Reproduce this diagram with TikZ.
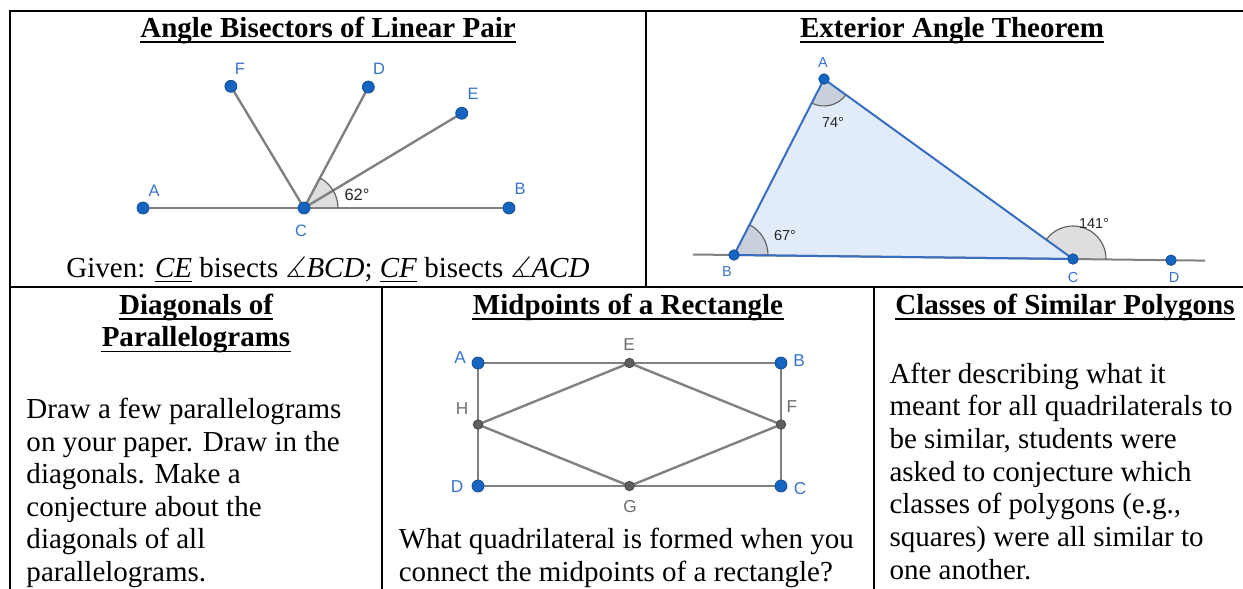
\documentclass[tikz,border=0pt]{standalone}
\usepackage{fontspec}
\usepackage{amssymb}
\setmainfont{Liberation Serif}
\newfontfamily\geo{Liberation Sans}
\usetikzlibrary{calc}
\definecolor{ptblue}{RGB}{21,101,192}
\definecolor{lblblue}{RGB}{55,115,205}
\definecolor{seggray}{RGB}{128,128,128}
\definecolor{angfill}{RGB}{222,222,222}
\definecolor{angdraw}{RGB}{95,95,95}
\definecolor{trifill}{RGB}{226,236,248}
\definecolor{tridraw}{RGB}{55,110,195}
\definecolor{triang}{RGB}{200,208,220}
\definecolor{midpt}{RGB}{95,95,95}
\definecolor{graylbl}{RGB}{110,110,110}
\newcommand\bodyfont{\fontsize{11.6}{13}\selectfont}
\newcommand\segname[1]{\underline{\textit{#1}\vphantom{C}}}
\newcommand\angname[1]{$\measuredangle$\textit{#1}}
\tikzset{
  tline/.style={line width=0.8pt,black},
  txt/.style={anchor=base west,inner sep=0pt,font=\bodyfont},
  ttl/.style={anchor=base,inner sep=0pt,font=\bodyfont\bfseries},
  seg/.style={line width=0.95pt,seggray},
  bpt/.style={circle,fill=ptblue,draw=ptblue!75!black,line width=0.3pt,inner sep=0pt,minimum size=4.8pt},
  bpts/.style={bpt,minimum size=4.2pt},
  gpt/.style={circle,fill=midpt,draw=midpt!70!black,line width=0.3pt,inner sep=0pt,minimum size=3.8pt},
  lblb/.style={inner sep=0pt,text=lblblue},
  lblg/.style={inner sep=0pt,text=graylbl},
  anglbl/.style={inner sep=0pt,text=black!85},
  angsec/.style={fill=angfill},
  angarc/.style={draw=angdraw,line width=0.45pt},
}
\newcommand\mytitle[4]{%
  \node[ttl] (#1) at (#2,#3) {#4};
  \draw[line width=0.6pt] ($(#1.base west)+(0,5)$) -- ($(#1.base east)+(0,5)$);}
\begin{document}
\begin{tikzpicture}[x=0.4pt,y=-0.4pt]
\useasboundingbox (0,0) rectangle (1243,588);
\clip (0,0) rectangle (1243,588);
\fill[white] (0,0) rectangle (1243,588);

% ---------------- table lines ----------------
\draw[tline] (10,620) -- (10,11) -- (1260,11);
\draw[tline] (10,286.5) -- (1260,286.5);
\draw[tline] (646,11) -- (646,286.5);
\draw[tline] (382,286.5) -- (382,620);
\draw[tline] (874,286.5) -- (874,620);

% ---------------- cell 1: angle bisectors ----------------
\mytitle{t1}{328}{37}{Angle Bisectors of Linear Pair}
\coordinate (C1) at (304,208);
\coordinate (A1) at (143,208);
\coordinate (B1) at (509,208);
\coordinate (D1) at ($(C1)+(-62:137)$);
\coordinate (E1) at ($(C1)+(-31:184)$);
\coordinate (F1) at ($(C1)+(-121:142)$);
\fill[angsec] (C1) -- +(-62:34) arc[start angle=-62,end angle=0,radius=34] -- cycle;
\draw[seg] (A1) -- (B1);
\draw[seg] (C1) -- (D1);
\draw[seg] (C1) -- (E1);
\draw[seg] (C1) -- (F1);
\draw[angarc] ($(C1)+(-62:34)$) arc[start angle=-62,end angle=0,radius=34];
\node[bpt] (pA1) at (A1) {};
\node[bpt] (pB1) at (B1) {};
\node[bpt] (pC1) at (C1) {};
\node[bpt] (pD1) at (D1) {};
\node[bpt] (pE1) at (E1) {};
\node[bpt] (pF1) at (F1) {};
\begin{scope}[every node/.append style={font=\geo\fontsize{6.6}{7}\selectfont}]
\node[lblb] (lA1) at (154,191) {A};
\node[lblb] (lB1) at (520,189) {B};
\node[lblb] (lC1) at (301,231) {C};
\node[lblb] (lD1) at (379,69) {D};
\node[lblb] (lE1) at (473,94) {E};
\node[lblb] (lF1) at (240,69) {F};
\node[anglbl] (g62) at (357,195) {62°};
\end{scope}
\node[anchor=base,inner sep=0pt,font=\bodyfont] (given) at (328,277)
  {Given: \segname{CE} bisects \angname{BCD}; \segname{CF} bisects \angname{ACD}};

% ---------------- cell 2: exterior angle theorem ----------------
\mytitle{t2}{952}{37}{Exterior Angle Theorem}
\coordinate (A2) at (824,79);
\coordinate (B2) at (734,255);
\coordinate (C2) at (1073,259);
\coordinate (D2) at (1171,260.2);
\coordinate (L2) at (693,254.5);
\coordinate (R2) at (1205,260.6);
\fill[trifill] (A2) -- (B2) -- (C2) -- cycle;
\fill[triang] (A2) -- +(35.9:27) arc[start angle=35.9,end angle=117.1,radius=27] -- cycle;
\fill[triang] (B2) -- +(-62.9:34) arc[start angle=-62.9,end angle=0.7,radius=34] -- cycle;
\fill[angsec] (C2) -- +(-144.1:33) arc[start angle=-144.1,end angle=0.6,radius=33] -- cycle;
\draw[seg,line width=0.8pt] (L2) -- (R2);
\draw[tridraw,line width=0.8pt,line join=round] (A2) -- (B2) -- (C2) -- cycle;
\draw[angarc] ($(A2)+(35.9:27)$) arc[start angle=35.9,end angle=117.1,radius=27];
\draw[angarc] ($(B2)+(-62.9:34)$) arc[start angle=-62.9,end angle=0.7,radius=34];
\draw[angarc] ($(C2)+(-144.1:33)$) arc[start angle=-144.1,end angle=0.6,radius=33];
\node[bpts] (pA2) at (A2) {};
\node[bpts] (pB2) at (B2) {};
\node[bpts] (pC2) at (C2) {};
\node[bpts] (pD2) at (D2) {};
\begin{scope}[every node/.append style={font=\geo\fontsize{5.8}{6}\selectfont}]
\node[lblb] (lA2) at (823,63) {A};
\node[lblb] (lB2) at (727,272) {B};
\node[lblb] (lC2) at (1073,277) {C};
\node[lblb] (lD2) at (1174,277) {D};
\node[anglbl] (g74) at (833,122) {74°};
\node[anglbl] (g67) at (785,235) {67°};
\node[anglbl] (g141) at (1094,223) {141°};
\end{scope}

% ---------------- cell 3: diagonals ----------------
\mytitle{t3a}{196}{314}{Diagonals of}
\mytitle{t3b}{196}{346.7}{Parallelograms}
\node[txt] (d1) at (26,418.5) {Draw a few parallelograms};
\node[txt] (d2) at (26,451) {on your paper. Draw in the};
\node[txt] (d3) at (26,483.5) {diagonals. Make a};
\node[txt] (d4) at (26,516) {conjecture about the};
\node[txt] (d5) at (26,548.5) {diagonals of all};
\node[txt] (d6) at (26,581) {parallelograms.};

% ---------------- cell 4: midpoints ----------------
\mytitle{t4}{628}{314}{Midpoints of a Rectangle}
\coordinate (A4) at (478,363);
\coordinate (B4) at (781,363);
\coordinate (C4) at (781,486);
\coordinate (D4) at (478,486);
\coordinate (E4) at (629.5,363);
\coordinate (F4) at (781,424.5);
\coordinate (G4) at (629.5,486);
\coordinate (H4) at (478,424.5);
\draw[seg,line join=round] (A4) -- (B4) -- (C4) -- (D4) -- cycle;
\draw[seg,line join=round] (E4) -- (F4) -- (G4) -- (H4) -- cycle;
\node[bpt] (pA4) at (A4) {};
\node[bpt] (pB4) at (B4) {};
\node[bpt] (pC4) at (C4) {};
\node[bpt] (pD4) at (D4) {};
\node[gpt] (pE4) at (E4) {};
\node[gpt] (pF4) at (F4) {};
\node[gpt] (pG4) at (G4) {};
\node[gpt] (pH4) at (H4) {};
\begin{scope}[every node/.append style={font=\geo\fontsize{6.9}{7}\selectfont}]
\node[lblb] (lA4) at (460,358) {A};
\node[lblb] (lB4) at (799,361) {B};
\node[lblb] (lC4) at (800,489) {C};
\node[lblb] (lD4) at (457,487) {D};
\node[lblg] (lE4) at (629,345) {E};
\node[lblg] (lF4) at (792,407) {F};
\node[lblg] (lG4) at (630,507) {G};
\node[lblg] (lH4) at (462,409) {H};
\end{scope}
\node[txt] (m1) at (398.3,548.5) {What quadrilateral is formed when you};
\node[txt] (m2) at (398.3,581) {connect the midpoints of a rectangle?};

% ---------------- cell 5: similar polygons ----------------
\mytitle{t5}{1065}{314}{Classes of Similar Polygons}
\node[txt] (s1) at (889,383) {After describing what it};
\node[txt] (s2) at (889,415.7) {meant for all quadrilaterals to};
\node[txt] (s3) at (889,448.4) {be similar, students were};
\node[txt] (s4) at (889,481) {asked to conjecture which};
\node[txt] (s5) at (889,513.7) {classes of polygons (e.g.,};
\node[txt] (s6) at (889,546.4) {squares) were all similar to};
\node[txt] (s7) at (889,579.2) {one another.};
\end{tikzpicture}
\end{document}
